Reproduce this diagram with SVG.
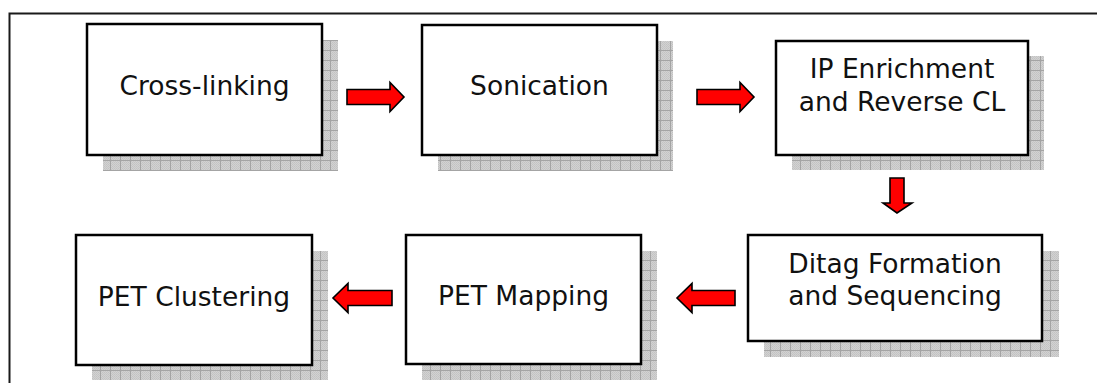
<svg xmlns="http://www.w3.org/2000/svg" width="1097" height="383" viewBox="0 0 1097 383">
  <style>
    .box { fill: #ffffff; stroke: #000000; stroke-width: 2.5; }
    .shadow { fill: url(#shadowGrid); }
    .label { font-family: "DejaVu Sans", Verdana, sans-serif; font-size: 26.5px; fill: #111111; text-anchor: middle; }
    .arrow { fill: #ff0000; stroke: #000000; stroke-width: 1.6; stroke-linejoin: miter; }
  </style>
  <defs>
    <!-- fine dither under the shadow grid -->
    <pattern id="shadowDots" width="2" height="2" patternUnits="userSpaceOnUse">
      <rect width="2" height="2" fill="#d2d2d2"/>
      <rect width="1" height="1" fill="#c2c2c2"/>
      <rect x="1" y="1" width="1" height="1" fill="#c6c6c6"/>
    </pattern>
    <!-- hatched drop shadow: dither plus 10px grid lines -->
    <pattern id="shadowGrid" width="10" height="10" patternUnits="userSpaceOnUse">
      <rect width="10" height="10" fill="url(#shadowDots)"/>
      <path d="M0.5,0 V10 M0,0.5 H10" stroke="#a4a4a4" stroke-width="1"/>
    </pattern>
  </defs>

  <rect width="1097" height="383" fill="#ffffff"/>

  <!-- outer frame, continues past the right and bottom edges -->
  <rect x="9.5" y="13.5" width="1110" height="400" fill="none" stroke="#1a1a1a" stroke-width="2"/>

  <g id="node-crosslinking">
    <rect class="shadow" x="103" y="40" width="235" height="131"/>
    <rect class="box" x="87" y="24" width="235" height="131"/>
    <text class="label" x="204.5" y="95">Cross-linking</text>
  </g>

  <g id="node-sonication">
    <rect class="shadow" x="438" y="41" width="235" height="130"/>
    <rect class="box" x="422" y="25" width="235" height="130"/>
    <text class="label" x="539.5" y="95">Sonication</text>
  </g>

  <g id="node-ip-enrichment">
    <rect class="shadow" x="792" y="56" width="252" height="114"/>
    <rect class="box" x="776" y="41" width="252" height="114"/>
    <text class="label" x="902" y="78">IP Enrichment</text>
    <text class="label" x="902" y="111">and Reverse CL</text>
  </g>

  <g id="node-ditag">
    <rect class="shadow" x="764" y="251" width="295" height="106"/>
    <rect class="box" x="748" y="235" width="294" height="106"/>
    <text class="label" x="895" y="273">Ditag Formation</text>
    <text class="label" x="895" y="305">and Sequencing</text>
  </g>

  <g id="node-pet-mapping">
    <rect class="shadow" x="422" y="251" width="235" height="129"/>
    <rect class="box" x="406" y="235" width="235" height="129"/>
    <text class="label" x="523.5" y="305">PET Mapping</text>
  </g>

  <g id="node-pet-clustering">
    <rect class="shadow" x="92" y="251" width="236" height="129"/>
    <rect class="box" x="76" y="235" width="236" height="130"/>
    <text class="label" x="194" y="306">PET Clustering</text>
  </g>

  <g id="connectors">
    <!-- Cross-linking to Sonication -->
    <path class="arrow" d="M347,89.5 H390 V82.5 L404,97 L390,111.5 V104.5 H347 Z"/>
    <!-- Sonication to IP Enrichment -->
    <path class="arrow" d="M697,89.5 H740 V82.5 L754,97 L740,111.5 V104.5 H697 Z"/>
    <!-- IP Enrichment down to Ditag Formation -->
    <path class="arrow" d="M890,178 H904 V203 H912 L897,213 L883,203 H890 Z"/>
    <!-- Ditag Formation to PET Mapping -->
    <path class="arrow" d="M735,290.5 H692 V283.5 L677,298 L692,312.5 V305.5 H735 Z"/>
    <!-- PET Mapping to PET Clustering -->
    <path class="arrow" d="M392,290.5 H348 V283.5 L333,298 L348,312.5 V305.5 H392 Z"/>
  </g>
</svg>
